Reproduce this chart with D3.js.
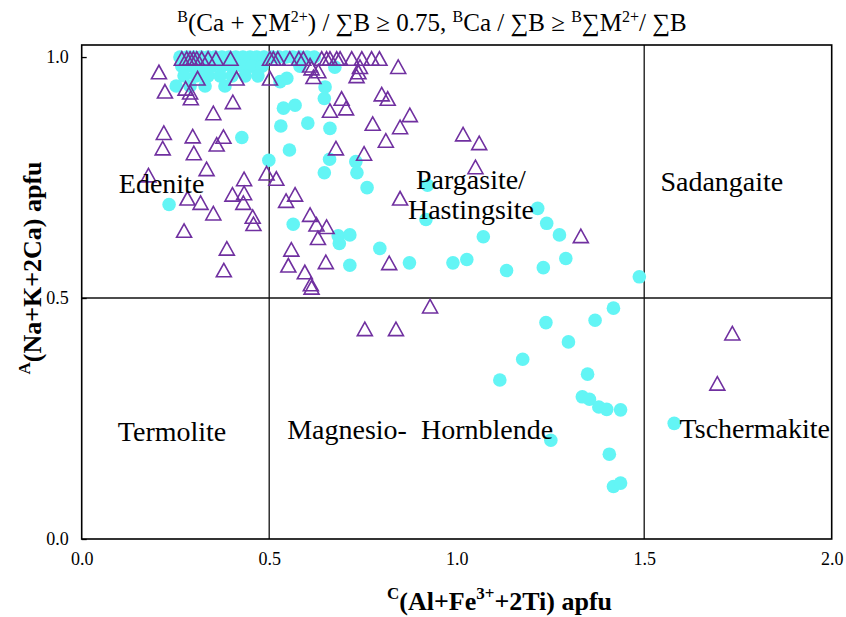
<!DOCTYPE html>
<html>
<head>
<meta charset="utf-8">
<script src="https://cdn.jsdelivr.net/npm/d3@7"></script>
<style>
  html, body { margin: 0; padding: 0; background: #ffffff; }
  svg { display: block; }
  text { font-family: "Liberation Serif", "Times New Roman", "DejaVu Serif", serif; fill: #000; }
</style>
</head>
<body>
<svg id="chart" width="846" height="617"></svg>
<script>
// Amphibole classification: A(Na+K+2Ca) vs C(Al+Fe3+ +2Ti), apfu

// Open triangles
const seriesTriangle = [
  [0.267,0.997],[0.280,0.997],[0.289,0.997],[0.298,0.997],[0.307,0.997],[0.320,0.997],
  [0.337,0.997],[0.358,0.997],[0.397,0.997],[0.502,0.997],[0.511,0.997],[0.523,0.997],
  [0.555,0.997],[0.579,0.997],[0.591,0.997],[0.640,0.997],[0.653,0.997],[0.662,0.997],
  [0.680,0.997],[0.689,0.997],[0.720,0.997],[0.747,0.997],[0.773,0.997],[0.794,0.997],
  [0.609,0.983],[0.613,0.977],[0.631,0.971],[0.618,0.959],[0.742,0.980],[0.738,0.969],
  [0.733,0.961],[0.844,0.980],[0.206,0.969],[0.309,0.956],[0.413,0.956],[0.502,0.956],
  [0.222,0.929],[0.277,0.935],[0.289,0.927],[0.291,0.915],[0.403,0.907],[0.351,0.884],
  [0.800,0.923],[0.816,0.914],[0.693,0.914],[0.705,0.894],[0.662,0.889],[0.875,0.880],
  [0.776,0.862],[0.849,0.855],[0.811,0.827],[0.678,0.811],[0.753,0.800],
  [1.017,0.840],[1.060,0.822],[1.050,0.772],
  [0.219,0.843],[0.296,0.836],[0.378,0.835],[0.360,0.819],[0.216,0.811],[0.299,0.801],
  [0.333,0.768],[0.178,0.755],[0.433,0.747],[0.493,0.759],[0.519,0.748],
  [0.282,0.707],[0.317,0.698],[0.351,0.676],[0.402,0.715],[0.433,0.718],[0.431,0.698],
  [0.456,0.669],[0.458,0.654],[0.273,0.640],[0.387,0.603],[0.379,0.558],
  [0.545,0.702],[0.569,0.715],[0.609,0.673],[0.626,0.653],[0.653,0.648],[0.630,0.625],
  [0.559,0.601],[0.551,0.568],[0.651,0.575],[0.595,0.554],[0.611,0.529],[0.613,0.522],
  [0.849,0.707],[0.820,0.573],[1.331,0.629],
  [0.755,0.436],[0.838,0.436],[0.929,0.483],
  [1.735,0.427],[1.695,0.323]
];

// Filled circles
const seriesCircle = [
  [0.262,1.000],[0.281,1.000],[0.299,1.000],[0.318,1.000],[0.337,1.000],[0.355,1.000],
  [0.374,1.000],[0.393,1.000],[0.411,1.000],[0.430,1.000],[0.449,1.000],[0.467,1.000],
  [0.486,1.000],[0.508,1.000],[0.526,1.000],[0.545,1.000],[0.563,1.000],[0.582,1.000],
  [0.601,1.000],[0.620,1.000],[0.675,0.979],
  [0.267,0.981],[0.294,0.981],[0.321,0.981],[0.347,0.981],[0.374,0.981],[0.401,0.981],
  [0.428,0.981],[0.454,0.981],[0.481,0.981],[0.582,0.981],
  [0.273,0.961],[0.305,0.961],[0.337,0.961],[0.369,0.961],[0.401,0.961],[0.436,0.961],
  [0.470,0.961],
  [0.252,0.940],[0.289,0.940],[0.329,0.940],[0.382,0.940],
  [0.529,0.949],[0.547,0.956],[0.538,0.894],[0.569,0.900],[0.649,0.938],[0.647,0.914],
  [0.427,0.833],[0.499,0.786],[0.554,0.807],[0.531,0.857],[0.603,0.863],[0.662,0.852],
  [0.661,0.788],[0.647,0.760],[0.731,0.783],[0.734,0.760],[0.761,0.729],[0.922,0.734],
  [0.918,0.663],[0.233,0.694],
  [0.564,0.653],[0.684,0.629],[0.715,0.631],[0.687,0.613],[0.795,0.603],[0.715,0.568],
  [0.874,0.573],[0.990,0.573],[1.027,0.580],[1.071,0.627],
  [1.216,0.686],[1.240,0.655],[1.274,0.631],[1.291,0.582],[1.231,0.563],[1.133,0.557],
  [1.487,0.544],
  [1.418,0.479],[1.369,0.454],[1.238,0.449],[1.298,0.409],[1.176,0.373],[1.115,0.330],
  [1.349,0.342],[1.335,0.295],[1.354,0.290],[1.379,0.274],[1.400,0.269],[1.437,0.268],
  [1.580,0.240],[1.251,0.205],[1.407,0.176],[1.418,0.109],[1.437,0.116]
];

const xTicks = [0.0, 0.5, 1.0, 1.5, 2.0];
const yTicks = [0.0, 0.5, 1.0];
const xDividers = [0.5, 1.5];
const yDividers = [0.5];

const fieldNames = ["Edenite", "Pargasite/", "Hastingsite", "Sadangaite",
                    "Termolite", "Magnesio-  Hornblende", "Tschermakite"];

// ---- layout ----
const svg = d3.select("#chart");
const plotLeft = 81.7, plotRight = 831.7, plotTop = 45, plotBottom = 539;

const x = d3.scaleLinear().domain([0, 2]).range([plotLeft, plotRight]);
const y = d3.scaleLinear().domain([0, 1.025]).range([plotBottom, plotTop]);

const serif = '"Liberation Serif", "Times New Roman", "DejaVu Serif", serif';

// plot background
svg.append("rect")
  .attr("x", plotLeft).attr("y", plotTop)
  .attr("width", plotRight - plotLeft).attr("height", plotBottom - plotTop)
  .attr("fill", "#ffffff");

// field dividers
svg.selectAll("line.vdiv").data(xDividers).join("line")
  .attr("class", "vdiv")
  .attr("x1", d => x(d)).attr("x2", d => x(d))
  .attr("y1", y(0)).attr("y2", y(1.025))
  .attr("stroke", "#111").attr("stroke-width", 1.3);

svg.selectAll("line.hdiv").data(yDividers).join("line")
  .attr("class", "hdiv")
  .attr("x1", x(0)).attr("x2", x(2))
  .attr("y1", d => y(d)).attr("y2", d => y(d))
  .attr("stroke", "#111").attr("stroke-width", 1.3);

// axes
const xAxis = svg.append("g")
  .attr("transform", `translate(0,${plotBottom})`)
  .call(d3.axisBottom(x).tickValues(xTicks).tickFormat(d3.format(".1f"))
        .tickSize(0).tickPadding(13));
const yAxis = svg.append("g")
  .attr("transform", `translate(${plotLeft},0)`)
  .call(d3.axisLeft(y).tickValues(yTicks).tickFormat(d3.format(".1f"))
        .tickSizeInner(-5).tickSizeOuter(0).tickPadding(13));

[xAxis, yAxis].forEach(g => {
  g.select(".domain").remove();
  g.selectAll(".tick line").attr("stroke", "#000").attr("stroke-width", 1.3);
  g.selectAll(".tick text")
    .attr("font-family", serif).attr("font-size", 18).attr("fill", "#000");
});

// circles
svg.append("g").selectAll("circle").data(seriesCircle).join("circle")
  .attr("cx", d => x(d[0])).attr("cy", d => y(d[1]))
  .attr("r", 6.8)
  .attr("fill", "#63f5f5");

// open triangles, centred on their bounding box
const tw = 15, th = 13.5;
const triPath = `M0,${-th / 2}L${tw / 2},${th / 2}L${-tw / 2},${th / 2}Z`;
svg.append("g").selectAll("path").data(seriesTriangle).join("path")
  .attr("transform", d => `translate(${x(d[0])},${y(d[1])})`)
  .attr("d", triPath)
  .attr("fill", "none")
  .attr("stroke", "#7030a0")
  .attr("stroke-width", 1.6)
  .attr("stroke-linejoin", "miter");

// frame
svg.append("rect")
  .attr("x", plotLeft).attr("y", plotTop)
  .attr("width", plotRight - plotLeft).attr("height", plotBottom - plotTop)
  .attr("fill", "none").attr("stroke", "#000").attr("stroke-width", 1.6);

// field names
const fieldPos = [
  { x: 0.213, y: 0.718, anchor: "middle" },
  { x: 1.038, y: 0.726, anchor: "middle" },
  { x: 1.038, y: 0.664, anchor: "middle" },
  { x: 1.707, y: 0.722, anchor: "middle" },
  { x: 0.241, y: 0.203, anchor: "middle" },
  { x: 0.548, y: 0.207, anchor: "start" },
  { x: 1.795, y: 0.210, anchor: "middle" }
];
svg.append("g").selectAll("text").data(fieldNames).join("text")
  .attr("x", (d, i) => x(fieldPos[i].x))
  .attr("y", (d, i) => y(fieldPos[i].y))
  .attr("text-anchor", (d, i) => fieldPos[i].anchor)
  .attr("font-family", serif)
  .attr("font-size", 28)
  .style("white-space", "pre")
  .text(d => d);

// runs of normal / superscript text; each run carries its own baseline shift
function richText(sel, parts, supSize, supRise) {
  let raised = false;
  parts.forEach(p => {
    const t = sel.append("tspan").text(p.t);
    if (p.sup) {
      t.attr("font-size", supSize);
      if (!raised) t.attr("dy", -supRise);
      raised = true;
    } else if (raised) {
      t.attr("dy", supRise);
      raised = false;
    }
  });
}

// title
const title = svg.append("text")
  .attr("x", 432).attr("y", 31)
  .attr("text-anchor", "middle")
  .attr("font-family", serif).attr("font-size", 25)
  .style("white-space", "pre");
richText(title, [
  { t: "B", sup: true }, { t: "(Ca + \u2211M" }, { t: "2+", sup: true },
  { t: ") / \u2211B \u2265 0.75, " }, { t: "B", sup: true }, { t: "Ca / \u2211B \u2265 " },
  { t: "B", sup: true }, { t: "\u2211M" }, { t: "2+", sup: true }, { t: "/ \u2211B" }
], 16, 9);

// x-axis title
const xTitle = svg.append("text")
  .attr("x", 387).attr("y", 610)
  .attr("font-family", serif).attr("font-size", 26).attr("font-weight", "bold");
richText(xTitle, [
  { t: "C", sup: true }, { t: "(Al+Fe" }, { t: "3+", sup: true }, { t: "+2Ti) apfu" }
], 17, 11);

// y-axis title
const yTitle = svg.append("text")
  .attr("transform", "translate(41,268) rotate(-90)")
  .attr("text-anchor", "middle")
  .attr("font-family", serif).attr("font-size", 26).attr("font-weight", "bold");
richText(yTitle, [
  { t: "A", sup: true }, { t: "(Na+K+2Ca) apfu" }
], 17, 11);
</script>
</body>
</html>
